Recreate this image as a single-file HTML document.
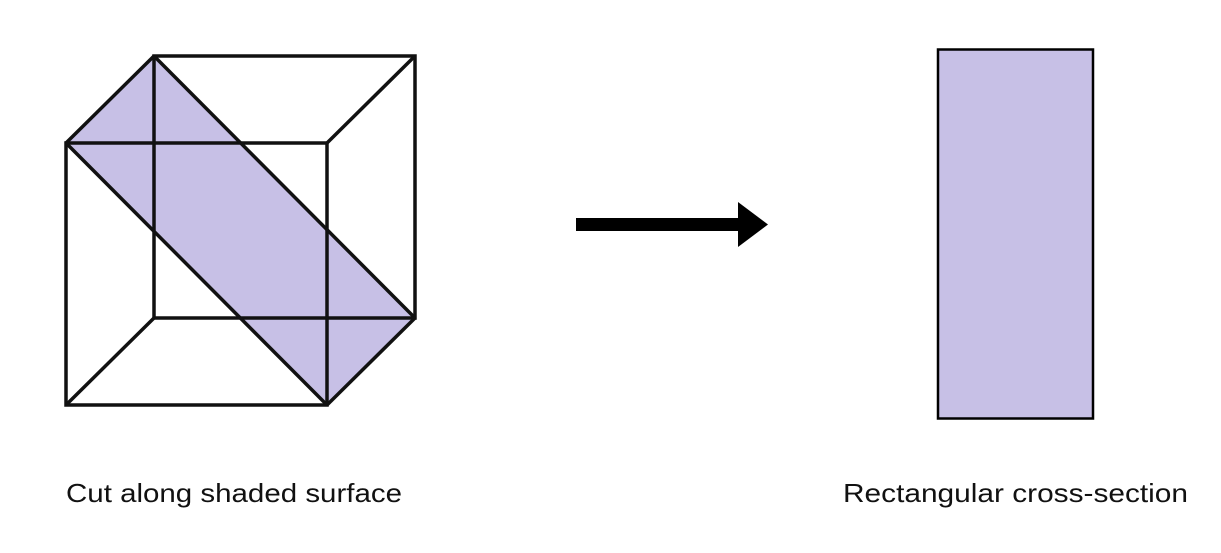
<!DOCTYPE html>
<html><head><meta charset="utf-8"><style>
html,body{margin:0;padding:0;background:#fff;}
svg{display:block;}
</style></head><body>
<svg width="1221" height="553" viewBox="0 0 1221 553" xmlns="http://www.w3.org/2000/svg">
<polygon points="154,56 66,143 327,405 415,318" fill="#c7c0e6"/>
<g stroke="#111" stroke-width="3.5" fill="none" stroke-linejoin="miter">
<rect x="154" y="56" width="261" height="262"/>
<rect x="66" y="143" width="261" height="262"/>
<line x1="66" y1="143" x2="154" y2="56"/>
<line x1="327" y1="143" x2="415" y2="56"/>
<line x1="66" y1="405" x2="154" y2="318"/>
<line x1="327" y1="405" x2="415" y2="318"/>
<line x1="154" y1="56" x2="415" y2="318"/>
<line x1="66" y1="143" x2="327" y2="405"/>
</g>
<rect x="576" y="218" width="164" height="13" fill="#000"/>
<polygon points="738,202 768,224.5 738,247" fill="#000"/>
<rect x="938" y="49.5" width="155" height="369" fill="#c7c0e6" stroke="#000" stroke-width="2.5"/>
<text x="66" y="502" font-family="Liberation Sans, sans-serif" font-size="26" fill="#111" textLength="336" lengthAdjust="spacingAndGlyphs">Cut along shaded surface</text>
<text x="843" y="502" font-family="Liberation Sans, sans-serif" font-size="26" fill="#111" textLength="345" lengthAdjust="spacingAndGlyphs">Rectangular cross-section</text>
</svg>
</body></html>
